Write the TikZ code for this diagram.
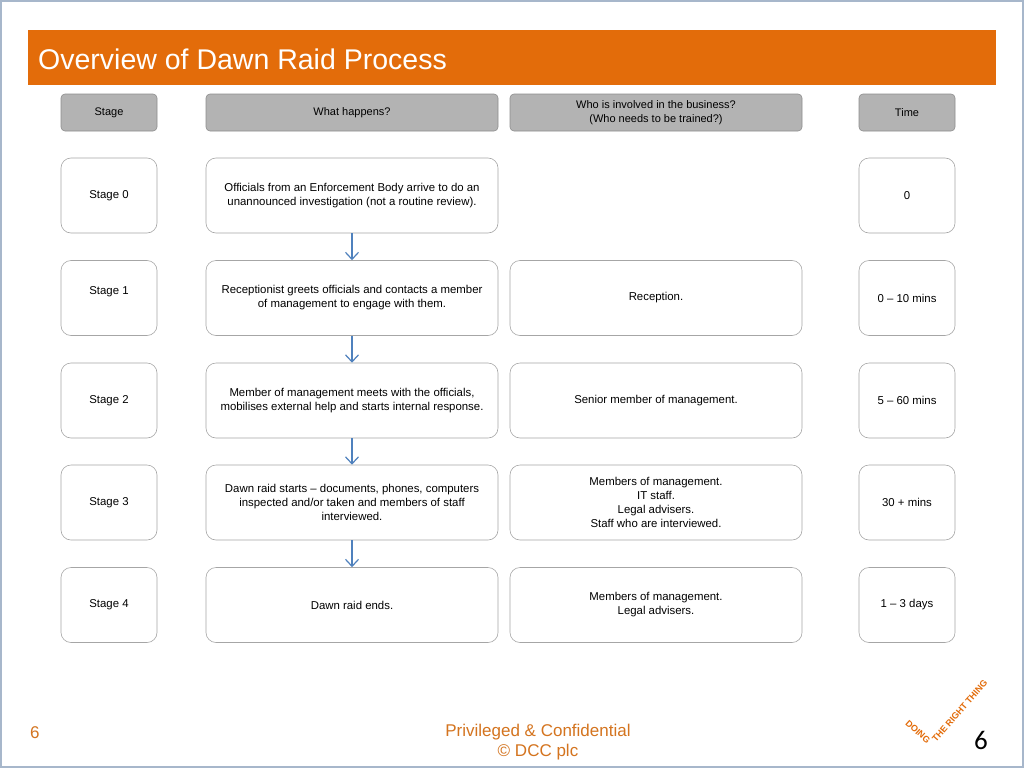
\documentclass[tikz,border=0pt]{standalone}
\usepackage{fontspec}
\setmainfont{Liberation Sans}
\newfontfamily\calfont{Carlito}
\usetikzlibrary{arrows.meta}
\definecolor{barorange}{HTML}{E36C0A}
\definecolor{footorange}{HTML}{D4741F}
\definecolor{hdrgray}{HTML}{B3B3B3}
\definecolor{hdrline}{HTML}{8E8E8E}
\definecolor{boxline}{HTML}{A6A6A6}
\definecolor{arrowblue}{HTML}{4F81BD}
\definecolor{frameblue}{HTML}{A7B7CB}
\tikzset{
  hdr/.style={draw=hdrline, fill=hdrgray, rounded corners=4pt, line width=0.6pt,
    minimum height=37pt, align=center, font=\fontsize{11}{14}\selectfont, inner sep=0pt},
  cell/.style={draw=boxline, rounded corners=10pt, line width=0.6pt,
    minimum height=75pt, align=center, font=\fontsize{11.4}{14}\selectfont, inner sep=0pt},
  narrow/.style={minimum width=96pt},
  wide/.style={minimum width=292pt},
  flow/.style={draw=arrowblue, line width=1.2pt, -{Straight Barb[length=7pt,width=13pt,line width=1.2pt]}},
  foot/.style={text=footorange, font=\fontsize{17}{20}\selectfont, inner sep=0pt},
  logo/.style={text=barorange, font=\bfseries\fontsize{9}{10}\selectfont, inner sep=0pt}
}
\begin{document}
\begin{tikzpicture}[x=1pt,y=-1pt]
\useasboundingbox (0,0) rectangle (1024,768);
\fill[white] (0,0) rectangle (1024,768);
\draw[frameblue, line width=2pt] (1,1) rectangle (1023,767);
% title bar
\fill[barorange] (28,30) rectangle (996,85);
\node[anchor=west, text=white, font=\fontsize{28.5}{30}\selectfont, inner sep=0pt] (title) at (38,59) {Overview of Dawn Raid Process};
% headers
\node[hdr, narrow] (h0) at (109,112.5) {Stage};
\node[hdr, wide] (h1) at (352,112.5) {What happens?};
\node[hdr, wide] (h2) at (656,112.5) {Who is involved in the business?\\(Who needs to be trained?)};
\node[hdr, narrow] (h3) at (907,112.5) {Time};
% row 0
\node[cell, narrow] (s0) at (109,195.5) {Stage 0};
\node[cell, wide] (w0) at (352,195.5) {Officials from an Enforcement Body arrive to do an\\unannounced investigation (not a routine review).};
\node[cell, narrow] (t0) at (907,195.5) {0};
% row 1
\node[cell, narrow, label={[font=\fontsize{11.4}{14}\selectfont, yshift=6pt]center:Stage 1}] (s1) at (109,298) {};
\node[cell, wide] (w1) at (352,298) {Receptionist greets officials and contacts a member\\of management to engage with them.};
\node[cell, wide] (p1) at (656,298) {Reception.};
\node[cell, narrow] (t1) at (907,298) {0 -- 10 mins};
% row 2
\node[cell, narrow] (s2) at (109,400.5) {Stage 2};
\node[cell, wide] (w2) at (352,400.5) {Member of management meets with the officials,\\mobilises external help and starts internal response.};
\node[cell, wide] (p2) at (656,400.5) {Senior member of management.};
\node[cell, narrow] (t2) at (907,400.5) {5 -- 60 mins};
% row 3
\node[cell, narrow] (s3) at (109,502.5) {Stage 3};
\node[cell, wide] (w3) at (352,502.5) {Dawn raid starts -- documents, phones, computers\\inspected and/or taken and members of staff\\interviewed.};
\node[cell, wide] (p3) at (656,502.5) {Members of management.\\IT staff.\\Legal advisers.\\Staff who are interviewed.};
\node[cell, narrow] (t3) at (907,502.5) {30 + mins};
% row 4
\node[cell, narrow] (s4) at (109,605) {Stage 4};
\node[cell, wide] (w4) at (352,605) {Dawn raid ends.};
\node[cell, wide] (p4) at (656,605) {Members of management.\\Legal advisers.};
\node[cell, narrow] (t4) at (907,605) {1 -- 3 days};
% arrows
\draw[flow] (w0.south) -- (w1.north);
\draw[flow] (w1.south) -- (w2.north);
\draw[flow] (w2.south) -- (w3.north);
\draw[flow] (w3.south) -- (w4.north);
% footer
\node[foot, anchor=west] (pg) at (30,733) {6};
\node[foot, align=center] (conf) at (538,742) {Privileged \& Confidential\\\textcopyright{} DCC plc};
\node[inner sep=0pt, font=\calfont\fontsize{27}{28}\selectfont] (num) at (981,740) {6};
% logo
\node[logo, rotate=-42, anchor=base east] (doing) at (927,744) {DOING};
\node[logo, rotate=49, anchor=base west] (thing) at (936,743) {THE RIGHT THING};
\end{tikzpicture}
\end{document}
